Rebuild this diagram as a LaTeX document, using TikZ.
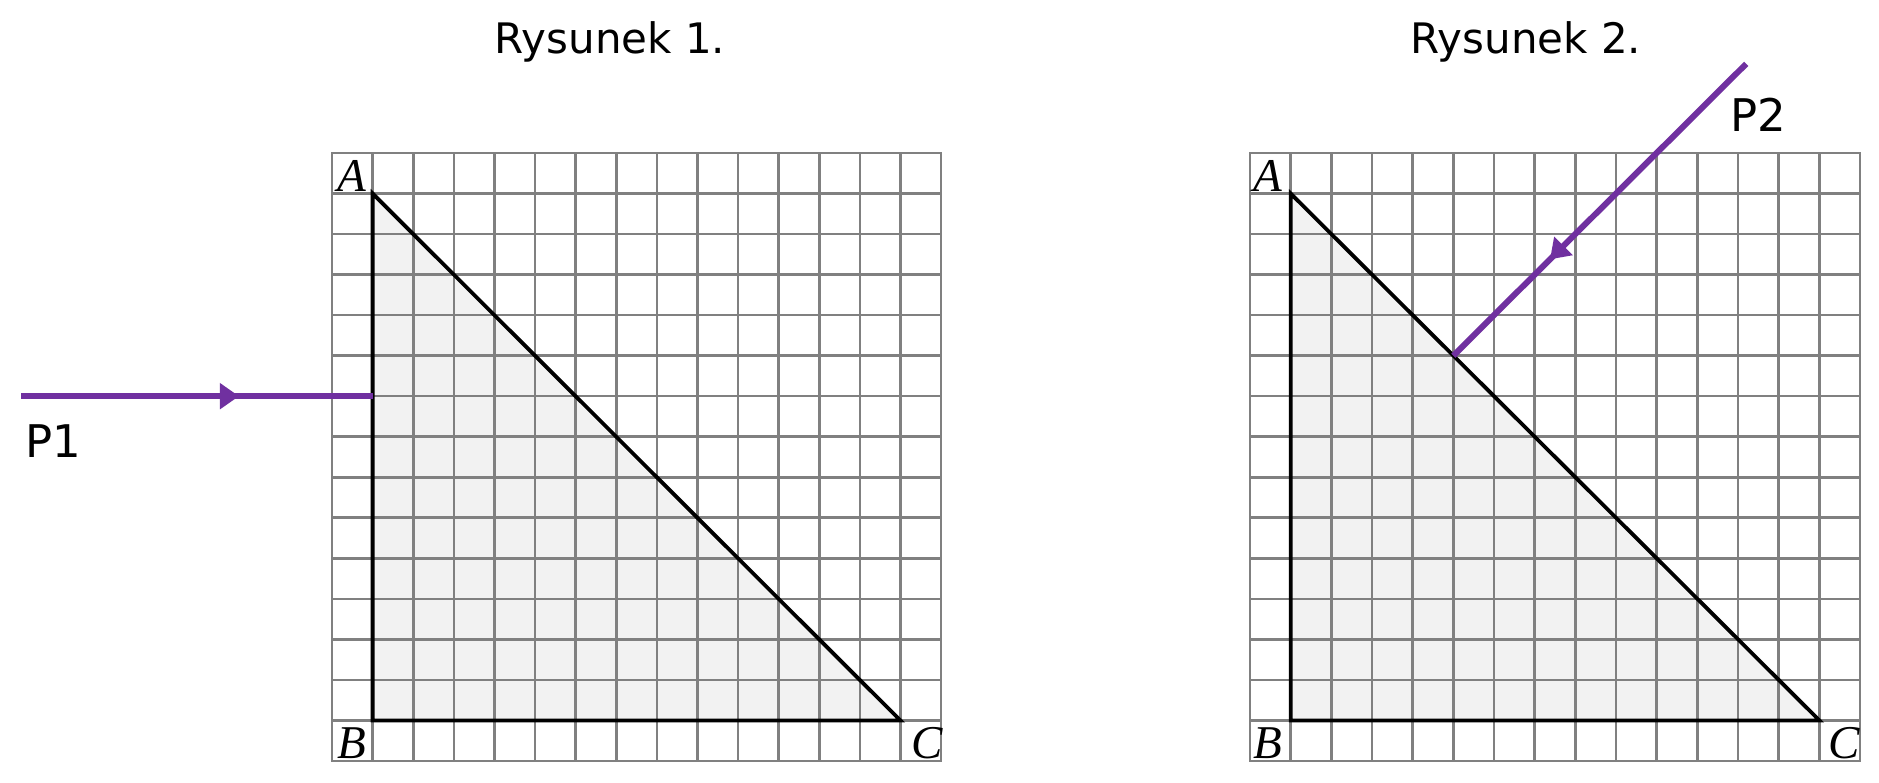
\documentclass[tikz,border=0pt]{standalone}
\usepackage{fontspec}
\setmainfont{DejaVu Sans}
\newfontfamily\vfont{Liberation Serif}
\usetikzlibrary{decorations.markings,arrows.meta}
\definecolor{raypurple}{HTML}{7030A0}
\definecolor{trifill}{HTML}{F2F2F2}
\definecolor{gridgray}{HTML}{808080}
\begin{document}
\begin{tikzpicture}[x=1pt,y=-1pt,
  gridline/.style={draw=gridgray,line width=2.6pt,line cap=rect},
  triline/.style={draw=black,line width=3.8pt,line join=miter},
  ray/.style={draw=raypurple,line width=6pt,postaction={decorate}},
  title/.style={font=\fontsize{42}{50}\selectfont,anchor=base,inner sep=0pt},
  plabel/.style={font=\fontsize{45}{54}\selectfont,anchor=base west,inner sep=0pt},
  vlabel/.style={font=\fontsize{47}{56}\selectfont\vfont\itshape,anchor=base,inner sep=0pt},
]
\fill[white] (0,0) rectangle (1879,783);
\useasboundingbox (0,0) rectangle (1879,783);

\node[title] (t1) at (610,54) {Rysunek 1.};
\node[title] (t2) at (1526,54) {Rysunek 2.};
\node[plabel] (p1) at (25,457) {P1};
\node[plabel] (p2) at (1730,132) {P2};

% Panel 1
\begin{scope}[shift={(332pt,-153pt)},x=40.6pt,y=-40.53pt]
  \coordinate (A1) at (1,1);
  \coordinate (B1) at (1,14);
  \coordinate (C1) at (14,14);
  \fill[trifill] (A1) -- (B1) -- (C1) -- cycle;
  \foreach \i in {0,...,15} {
    \draw[gridline] (\i,0) -- (\i,15);
    \draw[gridline] (0,\i) -- (15,\i);
  }
  \draw[triline] (A1) -- (B1) -- (C1) -- cycle;
  \node[vlabel] (lA1) at (0.5,0.96) {A};
  \node[vlabel] (lB1) at (0.5,14.93) {B};
  \node[vlabel] (lC1) at (14.66,14.93) {C};
  \coordinate (P1s) at (-7.66,6);
  \coordinate (P1e) at (1,6);
  \draw[ray,decoration={markings,mark=at position 0.62 with {\arrow{Triangle[length=19pt,width=25pt]}}}] (P1s) -- (P1e);
\end{scope}

% Panel 2
\begin{scope}[shift={(1250pt,-153pt)},x=40.67pt,y=-40.53pt]
  \coordinate (A2) at (1,1);
  \coordinate (B2) at (1,14);
  \coordinate (C2) at (14,14);
  \fill[trifill] (A2) -- (B2) -- (C2) -- cycle;
  \foreach \i in {0,...,15} {
    \draw[gridline] (\i,0) -- (\i,15);
    \draw[gridline] (0,\i) -- (15,\i);
  }
  \draw[triline] (A2) -- (B2) -- (C2) -- cycle;
  \node[vlabel] (lA2) at (0.45,0.96) {A};
  \node[vlabel] (lB2) at (0.45,14.93) {B};
  \node[vlabel] (lC2) at (14.62,14.93) {C};
  \coordinate (P2s) at (12.2,-2.2);
  \coordinate (P2e) at (5,5);
  \draw[ray,decoration={markings,mark=at position 0.67 with {\arrow{Triangle[length=19pt,width=25pt]}}}] (P2s) -- (P2e);
\end{scope}
\end{tikzpicture}
\end{document}
